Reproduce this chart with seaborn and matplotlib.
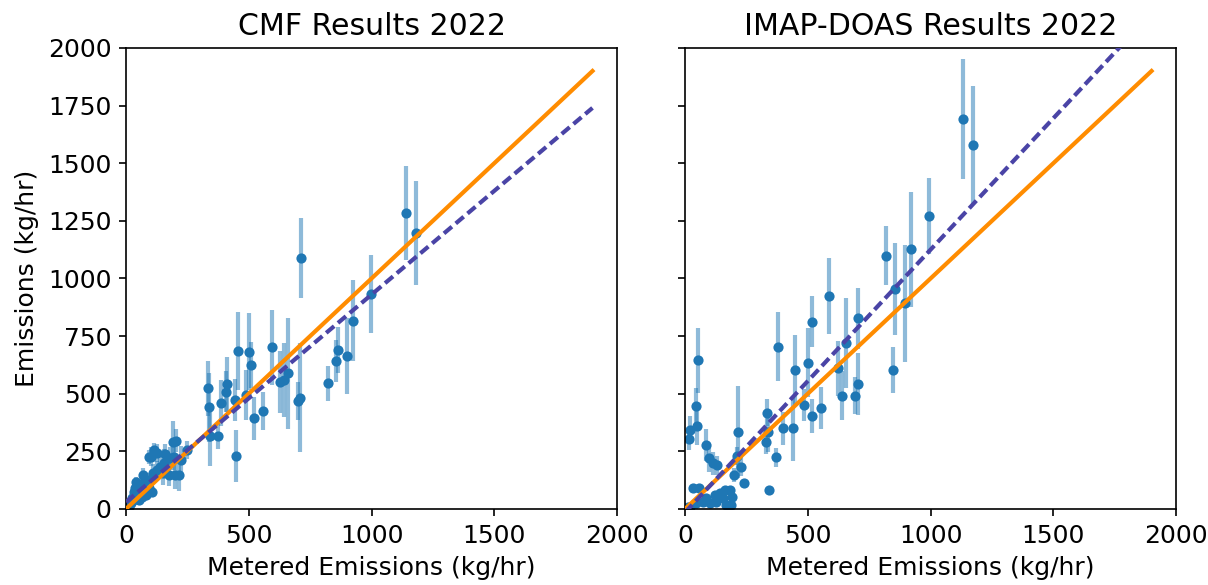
import numpy as np
import pandas as pd
import matplotlib
matplotlib.use('Agg')
import matplotlib.pyplot as plt
import seaborn as sns

# ── Data (kg/hr) ─────────────────────────────────────────────────────────────
cmf_metered = [1140, 1181, 713, 997, 925, 862, 855, 900, 823, 709, 699, 661,
               645, 627, 593, 557, 521, 508, 501, 455, 487, 443, 448, 410,
               406, 386, 376, 342, 339, 335, 223, 216, 200, 196, 193, 175,
               179, 155, 152, 138, 128, 128, 114, 111, 100, 95, 91, 107,
               94, 73, 73, 60, 53, 46, 40, 37, 33, 26, 19, 12,
               30, 70, 57, 80, 65, 85, 5, 204, 160, 250]
cmf_est = [1283, 1197, 1089, 933, 817, 690, 642, 665, 545, 483, 469, 589,
           560, 552, 702, 424, 393, 626, 683, 685, 495, 473, 231, 541,
           509, 461, 316, 316, 441, 524, 213, 148, 148, 227, 292, 148,
           220, 198, 155, 184, 242, 169, 256, 155, 227, 227, 126, 75,
           90, 118, 90, 68, 39, 97, 118, 90, 75, 46, 25, 10,
           39, 148, 75, 60, 50, 95, 5, 295, 240, 255]
cmf_err = [205, 225, 175, 170, 175, 100, 90, 165, 75, 238, 83, 240,
           160, 134, 163, 83, 94, 100, 165, 170, 108, 90, 112, 120,
           90, 100, 58, 130, 150, 120, 60, 70, 60, 60, 90, 50,
           50, 60, 50, 50, 40, 40, 30, 40, 40, 30, 30, 20,
           30, 30, 20, 20, 15, 20, 20, 20, 15, 15, 10, 10,
           10, 30, 15, 15, 10, 20, 5, 50, 40, 40]

imap_metered = [1131, 1174, 994, 920, 817, 855, 896, 848, 706, 657, 703, 692,
                641, 623, 587, 515, 502, 449, 485, 519, 554, 441, 400, 380,
                369, 342, 333, 338, 330, 217, 211, 227, 241, 198, 132, 115,
                99, 84, 54, 44, 48, 20, 16, 33, 57, 87, 121, 141,
                162, 182, 193, 155, 128, 101, 73, 46, 19, 168, 189, 13]
imap_est = [1690, 1579, 1273, 1126, 1099, 954, 892, 603, 827, 719, 542, 492,
            492, 610, 924, 813, 635, 603, 451, 403, 437, 350, 350, 704,
            224, 82, 418, 335, 290, 335, 230, 184, 111, 148, 189, 198,
            222, 278, 646, 447, 358, 343, 305, 90, 90, 46, 61, 68,
            82, 82, 53, 46, 32, 25, 32, 25, 10, 17, 17, 10]
imap_err = [260, 257, 165, 250, 127, 198, 255, 101, 133, 195, 133, 80,
            108, 120, 165, 110, 150, 150, 68, 75, 90, 140, 72, 150,
            40, 10, 60, 90, 50, 200, 40, 40, 20, 30, 40, 50,
            60, 70, 141, 76, 80, 60, 50, 20, 20, 15, 15, 15,
            15, 15, 15, 10, 10, 10, 10, 10, 5, 10, 10, 5]

# 1:1 line and fitted lines (slope, intercept)
line_x = [0, 1900]
cmf_fit = (0.90, 30)
imap_fit = (1.14, -15)

panels = [
    ('CMF Results 2022', cmf_metered, cmf_est, cmf_err, cmf_fit),
    ('IMAP-DOAS Results 2022', imap_metered, imap_est, imap_err, imap_fit),
]

plt.rcParams['font.size'] = 12

fig, axes = plt.subplots(1, 2, figsize=(1208 / 150, 585 / 150), sharey=True)
axes[0].set_position([0.1043, 0.130, 0.4065, 0.788])
axes[1].set_position([0.5671, 0.130, 0.4065, 0.788])

for ax, (title, xm, ye, err, (slope, icpt)) in zip(axes, panels):
    df = pd.DataFrame({'metered': xm, 'est': ye, 'err': err})
    ax.errorbar(df['metered'], df['est'], yerr=df['err'], fmt='none',
                ecolor='#1f77b4', alpha=0.5, elinewidth=2, zorder=1)
    sns.scatterplot(data=df, x='metered', y='est', color='#1f77b4', s=24,
                    linewidth=0, ax=ax, zorder=2)
    lx = np.array(line_x)
    sns.lineplot(x=lx, y=lx, color='darkorange', linewidth=2, ax=ax, zorder=3)
    sns.lineplot(x=lx, y=slope * lx + icpt, color='#4a44a6', linewidth=2,
                 linestyle=(0, (2.5, 1.2)), ax=ax, zorder=3)
    ax.set_xlim(0, 2000)
    ax.set_ylim(0, 2000)
    ax.set_xticks([0, 500, 1000, 1500, 2000])
    ax.set_yticks(np.arange(0, 2001, 250))
    ax.set_title(title)
    ax.set_xlabel('Metered Emissions (kg/hr)')
    ax.set_ylabel('')

axes[0].set_ylabel('Emissions (kg/hr)')

fig.savefig('out.png', dpi=150)
